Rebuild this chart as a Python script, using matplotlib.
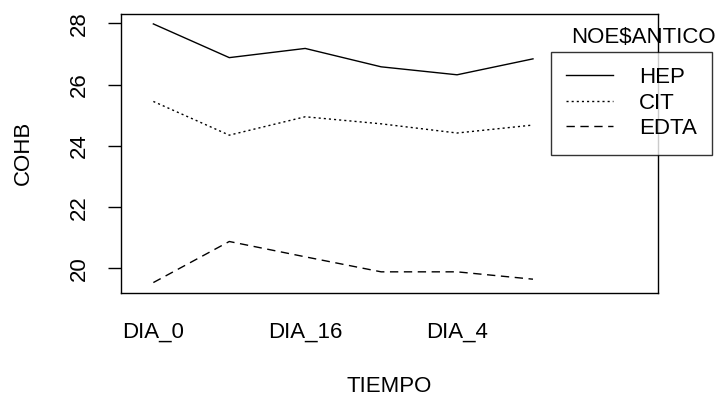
import matplotlib
matplotlib.use("Agg")
import matplotlib.pyplot as plt

plt.rcParams['font.family'] = ['Liberation Sans', 'DejaVu Sans']

tiempo = ['DIA_0', 'DIA_1', 'DIA_16', 'DIA_2', 'DIA_4', 'DIA_8']
tick_labels = ['DIA_0', '', 'DIA_16', '', 'DIA_4', '']
hep = [27.98, 26.88, 27.18, 26.58, 26.32, 26.84]
cit = [25.45, 24.35, 24.95, 24.72, 24.42, 24.68]
edta = [19.54, 20.88, 20.38, 19.89, 19.89, 19.65]
series = ['HEP', 'CIT', 'EDTA']

fs = 16

fig = plt.figure(figsize=(7.22, 4.03), dpi=100)
ax = fig.add_axes([0.1676, 0.2730, 0.7438, 0.6935])

x = list(range(len(tiempo)))
ax.plot(x, hep, color='black', lw=1, ls='-', label=series[0])
ax.plot(x, cit, color='black', lw=1, ls=(0, (1.5, 2.2)), label=series[1])
ax.plot(x, edta, color='black', lw=1, ls=(0, (6, 4)), label=series[2])

ax.set_xlim(-0.426, 6.647)
ax.set_ylim(19.2, 28.32)
ax.set_xticks(x)
ax.set_xticklabels(tick_labels, fontsize=fs)
ax.set_yticks([20, 22, 24, 26, 28])
ax.set_yticklabels(['20', '22', '24', '26', '28'], fontsize=fs, rotation=90, va='center')
ax.tick_params(axis='x', length=0, pad=21)
ax.tick_params(axis='y', length=9.5, width=1, pad=13)
for s in ax.spines.values():
    s.set_linewidth(1)

ax.set_xlabel('TIEMPO', fontsize=fs, labelpad=24)
ax.set_ylabel('COHB', fontsize=fs, labelpad=25)

fig.text(0.8906, 0.906, 'NOE$ANTICO', fontsize=fs, ha='center', va='center')
leg = ax.legend(loc='upper left', bbox_to_anchor=(0.763, 0.872),
                bbox_transform=fig.transFigure, borderaxespad=0,
                fontsize=fs, frameon=True, fancybox=False,
                handlelength=2.1, handletextpad=1.15, borderpad=0.7,
                labelspacing=0.2)
leg.get_frame().set_edgecolor('black')
leg.get_frame().set_linewidth(1)
leg.set_clip_on(False)

fig.savefig('out.png', dpi=100)
